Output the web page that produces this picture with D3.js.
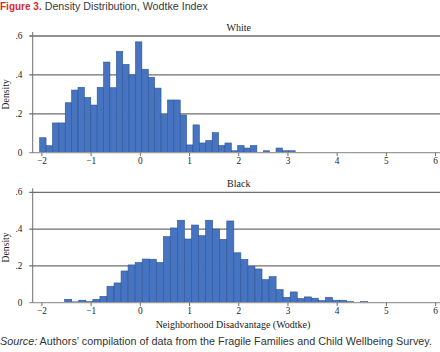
<!DOCTYPE html>
<html>
<head>
<meta charset="utf-8">
<script src="https://cdn.jsdelivr.net/npm/d3@7/dist/d3.min.js"></script>
<style>
  body { margin: 0; background: #fff; }
</style>
</head>
<body>
<div id="chart"></div>
<script>
// tick values and labels
const xTicks = [-2, -1, 0, 1, 2, 3, 4, 5, 6];
const yTicks = [0, 0.2, 0.4, 0.6];
const yTickLabels = ["0", ".2", ".4", ".6"];

// histogram densities (bin start + bin width in index units)
const whiteDensity = [0.077, 0.036, 0.153, 0.153, 0.257, 0.322, 0.336, 0.284, 0.245, 0.336,
                      0.466, 0.334, 0.521, 0.454, 0.400, 0.570, 0.429, 0.388, 0.332, 0.196,
                      0.271, 0.271, 0.194, 0.040, 0.143, 0.050, 0.063, 0.103, 0.037, 0.050,
                      0.010, 0.037, 0.024, 0.037, 0.000, 0.010, 0.000, 0.024, 0.010, 0.010];
const whiteBinStart = -2.045;
const whiteBinWidth = 0.1298;

const blackDensity = [0.018, 0.004, 0.013, 0.005, 0.018, 0.034, 0.089, 0.107, 0.172, 0.205,
                      0.218, 0.237, 0.236, 0.218, 0.359, 0.406, 0.448, 0.346, 0.422, 0.364,
                      0.448, 0.400, 0.344, 0.444, 0.271, 0.235, 0.197, 0.183, 0.125, 0.141,
                      0.071, 0.029, 0.058, 0.022, 0.031, 0.024, 0.011, 0.029, 0.013, 0.013,
                      0.005, 0.000, 0.005];
const blackBinStart = -1.537;
const blackBinWidth = 0.1432;

const w = 440,
      h = 352;

const svg = d3.select("#chart")
    .append("svg")
    .attr("width", w)
    .attr("height", h);

const serif = "'Liberation Serif', 'DejaVu Serif', serif";
const sans = "'Liberation Sans', Arial, sans-serif";

const x = d3.scaleLinear()
    .domain([-2, 6])
    .range([41.9, 435.6]);

const axisLeft = 32.7;

const panels = [
  {name: "White", values: whiteDensity, start: whiteBinStart, width: whiteBinWidth, bottom: 152.7, top: 36},
  {name: "Black", values: blackDensity, start: blackBinStart, width: blackBinWidth, bottom: 302.6, top: 192.3}
];

// header
const title = svg.append("text")
    .attr("x", 0)
    .attr("y", 9.5)
    .attr("font-family", sans)
    .attr("font-size", "10px");
title.append("tspan")
    .attr("font-weight", "bold")
    .attr("fill", "#d52b2f")
    .text("Figure 3.");
title.append("tspan")
    .attr("fill", "#3a3a3a")
    .attr("dx", 3)
    .attr("font-size", "10.7px")
    .text("Density Distribution, Wodtke Index");

panels.forEach(function(p) {
  const y = d3.scaleLinear()
      .domain([0, 0.6])
      .range([p.bottom, p.top]);

  const g = svg.append("g");

  // grid lines
  g.selectAll("line.grid")
      .data(yTicks.filter(function(d) { return d > 0; }))
      .enter()
      .append("line")
      .attr("class", "grid")
      .attr("x1", axisLeft - 3.5)
      .attr("x2", w)
      .attr("y1", function(d) { return y(d); })
      .attr("y2", function(d) { return y(d); })
      .style("stroke", "#6e6e6e")
      .style("stroke-width", 1.3);

  // bars
  g.selectAll("rect.bar")
      .data(p.values)
      .enter()
      .append("rect")
      .attr("class", "bar")
      .attr("x", function(d, i) { return x(p.start + i * p.width); })
      .attr("width", function(d, i) { return x(p.start + (i + 1) * p.width) - x(p.start + i * p.width); })
      .attr("y", function(d) { return y(d); })
      .attr("height", function(d) { return y(0) - y(d); })
      .style("fill", "#4674c1")
      .style("stroke", "#2d5597")
      .style("stroke-width", 0.6)
      .style("display", function(d) { return d > 0 ? null : "none"; });

  // baseline + y axis
  g.append("line")
      .attr("x1", axisLeft - 3.5)
      .attr("x2", w)
      .attr("y1", y(0))
      .attr("y2", y(0))
      .style("stroke", "#9a9a9a")
      .style("stroke-width", 1.2);

  g.append("line")
      .attr("x1", axisLeft)
      .attr("x2", axisLeft)
      .attr("y1", y(0.6) - 4)
      .attr("y2", y(0))
      .style("stroke", "#6e6e6e")
      .style("stroke-width", 1);

  // y tick labels
  g.selectAll("text.ytick")
      .data(yTicks)
      .enter()
      .append("text")
      .attr("x", 22.5)
      .attr("y", function(d) { return y(d) + 3; })
      .attr("text-anchor", "end")
      .attr("font-family", serif)
      .attr("font-size", "9.3px")
      .attr("fill", "#1a1a1a")
      .text(function(d, i) { return yTickLabels[i]; });

  // x ticks
  g.selectAll("line.xtick")
      .data(xTicks)
      .enter()
      .append("line")
      .attr("x1", function(d) { return x(d); })
      .attr("x2", function(d) { return x(d); })
      .attr("y1", y(0))
      .attr("y2", y(0) + 3.5)
      .style("stroke", "#6e6e6e")
      .style("stroke-width", 1);

  g.selectAll("text.xtick")
      .data(xTicks)
      .enter()
      .append("text")
      .attr("x", function(d) { return x(d); })
      .attr("y", y(0) + 11.5)
      .attr("text-anchor", "middle")
      .attr("font-family", serif)
      .attr("font-size", "9.3px")
      .attr("fill", "#1a1a1a")
      .text(function(d) { return d < 0 ? "\u2212" + Math.abs(d) : d; });

  // panel title
  g.append("text")
      .attr("x", x(2))
      .attr("y", p.top - 5.5)
      .attr("text-anchor", "middle")
      .attr("font-family", serif)
      .attr("font-size", "10px")
      .attr("fill", "#1a1a1a")
      .text(p.name);

  // y label
  g.append("text")
      .attr("transform", "translate(8.5," + ((p.top + p.bottom) / 2) + ") rotate(-90)")
      .attr("text-anchor", "middle")
      .attr("font-family", serif)
      .attr("font-size", "9.7px")
      .attr("fill", "#1a1a1a")
      .text("Density");
});

// x axis title
svg.append("text")
    .attr("x", 233)
    .attr("y", 328)
    .attr("text-anchor", "middle")
    .attr("font-family", serif)
    .attr("font-size", "10px")
    .attr("fill", "#1a1a1a")
    .text("Neighborhood Disadvantage (Wodtke)");

// source note
const note = svg.append("text")
    .attr("x", 0)
    .attr("y", 344.5)
    .attr("font-family", sans)
    .attr("font-size", "10.8px")
    .attr("fill", "#333");
note.append("tspan")
    .attr("font-style", "italic")
    .text("Source:");
note.append("tspan")
    .text(" Authors\u2019 compilation of data from the Fragile Families and Child Wellbeing Survey.");
</script>
</body>
</html>
